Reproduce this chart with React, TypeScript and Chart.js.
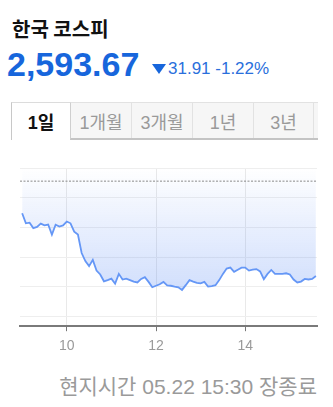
import React, { useEffect, useRef } from "react";
import { Chart, registerables } from "chart.js";

Chart.register(...registerables);

// Intraday KOSPI, 5-minute points
const times = [
  "09:00", "09:05", "09:10", "09:15", "09:20", "09:25", "09:30", "09:35", "09:40", "09:45",
  "09:50", "09:55", "10:00", "10:05", "10:10", "10:15", "10:20", "10:25", "10:30", "10:35",
  "10:40", "10:45", "10:50", "10:55", "11:00", "11:05", "11:10", "11:15", "11:20", "11:25",
  "11:30", "11:35", "11:40", "11:45", "11:50", "11:55", "12:00", "12:05", "12:10", "12:15",
  "12:20", "12:25", "12:30", "12:35", "12:40", "12:45", "12:50", "12:55", "13:00", "13:05",
  "13:10", "13:15", "13:20", "13:25", "13:30", "13:35", "13:40", "13:45", "13:50", "13:55",
  "14:00", "14:05", "14:10", "14:15", "14:20", "14:25", "14:30", "14:35", "14:40", "14:45",
  "14:50", "14:55", "15:00", "15:05", "15:10", "15:15", "15:20", "15:25", "15:30", "15:35",
];

const prices = [
  2614.8, 2611.4, 2611.6, 2609.8, 2610.2, 2611.3, 2610.7, 2611.0, 2607.6, 2610.9,
  2610.3, 2610.7, 2612.0, 2611.4, 2608.6, 2607.6, 2601.4, 2598.7, 2597.0, 2599.1,
  2595.5, 2594.2, 2591.9, 2592.3, 2592.8, 2591.1, 2594.4, 2592.5, 2592.8, 2592.3,
  2591.8, 2591.5, 2592.7, 2593.3, 2591.7, 2589.9, 2590.4, 2590.9, 2591.7, 2590.5,
  2590.4, 2590.1, 2589.9, 2589.0, 2590.6, 2592.3, 2591.8, 2591.4, 2591.2, 2591.7,
  2590.1, 2590.3, 2590.6, 2592.3, 2594.4, 2596.2, 2596.5, 2595.1, 2595.8, 2596.5,
  2596.5, 2595.5, 2595.8, 2596.0, 2595.2, 2592.6, 2594.4, 2595.7, 2594.4, 2594.4,
  2594.4, 2594.6, 2594.2, 2592.5, 2591.5, 2591.8, 2592.7, 2592.5, 2592.7, 2593.67,
];

const prevClose = 2625.58;
const lastPrice = 2593.67;
const change = 31.91;
const changePct = -1.22;

const yTicks = [2580, 2590, 2600, 2610, 2620, 2630];
const yRange = [2576.8, 2630];
const xTickHours = [10, 12, 14];
const xRangeMinutes = [537.1, 936.5];

const tabs = ["1일", "1개월", "3개월", "1년", "3년"];

const toMinutes = (t: string) => {
  const [h, m] = t.split(":").map(Number);
  return h * 60 + m;
};

const fmt = (v: number) =>
  v.toLocaleString("en-US", { minimumFractionDigits: 2, maximumFractionDigits: 2 });

const LATIN = '"Liberation Sans", Arial, "Noto Sans CJK KR", sans-serif';

function PriceChart() {
  const ref = useRef<HTMLCanvasElement | null>(null);

  useEffect(() => {
    if (!ref.current) return;
    const chart = new Chart(ref.current, {
      type: "line",
      data: {
        datasets: [
          {
            data: times.map((t, i) => ({ x: toMinutes(t), y: prices[i] })),
            borderColor: "#6597f6",
            borderWidth: 1.8,
            pointRadius: 0,
            tension: 0,
            fill: "end",
            order: 1,
            backgroundColor: (ctx: any) => {
              const area = ctx.chart.chartArea;
              if (!area) return "rgba(80,132,245,0.2)";
              const g = ctx.chart.ctx.createLinearGradient(0, area.top, 0, area.bottom);
              g.addColorStop(0, "rgba(80,132,245,0)");
              g.addColorStop(0.2, "rgba(80,132,245,0.07)");
              g.addColorStop(0.8, "rgba(80,132,245,0.27)");
              g.addColorStop(1, "rgba(80,132,245,0.29)");
              return g;
            },
          },
          {
            // previous close reference line
            data: [
              { x: xRangeMinutes[0], y: prevClose },
              { x: xRangeMinutes[1], y: prevClose },
            ],
            borderColor: "#8a8a8a",
            borderWidth: 1,
            borderDash: [2, 1.5],
            pointRadius: 0,
            fill: false,
            order: 0,
          },
        ],
      },
      options: {
        responsive: false,
        animation: false,
        devicePixelRatio: 1,
        layout: { padding: { left: 20, right: 16, top: 8, bottom: 8 } },
        plugins: { legend: { display: false }, tooltip: { enabled: false } },
        scales: {
          x: {
            type: "linear",
            min: xRangeMinutes[0],
            max: xRangeMinutes[1],
            afterBuildTicks: (s: any) => {
              s.ticks = xTickHours.map((h) => ({ value: h * 60 }));
            },
            ticks: {
              autoSkip: false,
              maxRotation: 0,
              padding: 7,
              color: "#9a9a9a",
              font: { family: LATIN, size: 14 },
              callback: (v: any) => String(Number(v) / 60),
            },
            grid: {
              color: "#e9e9e9",
              tickColor: "#777777",
              tickLength: 5,
            },
            border: { color: "#7a7a7a", width: 2 },
          },
          y: {
            min: yRange[0],
            max: yRange[1],
            afterBuildTicks: (s: any) => {
              s.ticks = yTicks.map((v) => ({ value: v }));
            },
            ticks: { display: false },
            grid: { color: "#eeeeee", drawTicks: false },
            border: { display: false },
          },
        },
      },
    });
    return () => chart.destroy();
  }, []);

  return (
    <canvas
      ref={ref}
      width={333}
      height={210}
      style={{ position: "absolute", left: 0, top: 160, width: 333, height: 210 }}
    />
  );
}

export default function App() {
  const up = changePct >= 0;
  const blue = "#1766dc";
  return (
    <div
      style={{
        position: "absolute",
        left: 0,
        top: 0,
        width: 333,
        height: 407,
        background: "#ffffff",
        overflow: "hidden",
        fontFamily: LATIN,
      }}
    >
      <div
        style={{
          position: "absolute",
          left: 12,
          top: 19,
          fontFamily: '"Noto Sans CJK KR", sans-serif',
          fontWeight: 700,
          fontSize: 20,
          lineHeight: "20px",
          color: "#111111",
          whiteSpace: "nowrap",
        }}
      >
        한국 코스피
      </div>

      <div
        style={{
          position: "absolute",
          left: 7,
          top: 47,
          fontWeight: 700,
          fontSize: 34,
          lineHeight: "34px",
          color: blue,
          whiteSpace: "nowrap",
        }}
      >
        {fmt(lastPrice)}
      </div>

      <div
        style={{
          position: "absolute",
          left: 152,
          top: 64,
          width: 0,
          height: 0,
          borderLeft: "7px solid transparent",
          borderRight: "7px solid transparent",
          borderTop: `10px solid ${blue}`,
          transform: up ? "rotate(180deg)" : undefined,
        }}
      />
      <div
        style={{
          position: "absolute",
          left: 168,
          top: 60,
          fontSize: 17,
          lineHeight: "17px",
          color: "#2a6fdc",
          whiteSpace: "nowrap",
        }}
      >
        {change.toFixed(2)} {changePct.toFixed(2)}%
      </div>

      {/* period tabs */}
      <div
        style={{
          position: "absolute",
          left: 11,
          top: 102,
          width: 59,
          height: 38,
          borderLeft: "1px solid #c8c8c8",
          borderTop: "1px solid #dcdcdc",
          background: "#ffffff",
          boxSizing: "border-box",
          display: "flex",
          alignItems: "center",
          justifyContent: "center",
          paddingBottom: 2,
          fontFamily: LATIN,
          fontWeight: 700,
          fontSize: 18,
          color: "#111111",
        }}
      >
        {tabs[0]}
      </div>
      <div
        style={{
          position: "absolute",
          left: 70,
          top: 102,
          width: 248,
          height: 38,
          boxSizing: "border-box",
          borderTop: "1px solid #e2e2e2",
          borderBottom: "2px solid #c4c4c4",
          borderLeft: "1px solid #cfcfcf",
          background: "#f6f6f6",
          display: "flex",
        }}
      >
        {tabs.slice(1).map((t, i) => (
          <div
            key={t}
            style={{
              width: i === 3 ? 60 : 61,
              height: "100%",
              boxSizing: "border-box",
              borderRight: "1px solid #e2e2e2",
              display: "flex",
              alignItems: "center",
              justifyContent: "center",
              fontSize: 18,
              color: "#9a9a9a",
            }}
          >
            {t}
          </div>
        ))}
      </div>

      <PriceChart />

      <div
        style={{
          position: "absolute",
          right: 16,
          top: 376,
          fontSize: 21,
          lineHeight: "21px",
          color: "#9a9a9a",
          whiteSpace: "nowrap",
        }}
      >
        현지시간 05.22 15:30 장종료
      </div>
    </div>
  );
}
